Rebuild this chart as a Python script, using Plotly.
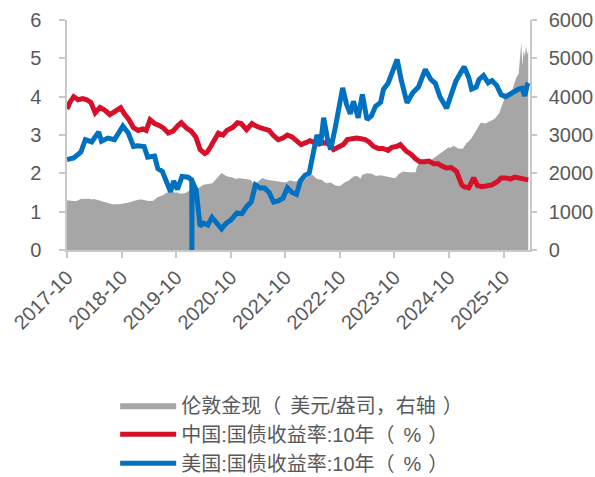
import plotly.graph_objects as go

# ---------------- data ----------------
gold_dates = [
    "2017-10-01", "2017-11-01", "2017-12-01", "2018-01-01", "2018-02-12", "2018-02-18", "2018-02-24",
    "2018-03-15", "2018-04-01", "2018-05-01", "2018-06-01", "2018-07-01", "2018-08-01", "2018-09-01",
    "2018-09-28", "2018-10-04", "2018-10-09", "2018-11-01", "2018-12-01", "2019-01-01", "2019-02-01",
    "2019-02-07", "2019-02-12", "2019-03-01", "2019-04-01", "2019-05-01", "2019-06-01", "2019-07-01",
    "2019-08-01", "2019-09-01", "2019-09-28", "2019-10-04", "2019-10-09", "2019-11-01", "2019-12-01",
    "2020-01-01", "2020-01-22", "2020-01-28", "2020-02-03", "2020-03-01", "2020-04-01", "2020-05-01",
    "2020-06-01", "2020-07-01", "2020-08-01", "2020-09-01", "2020-09-28", "2020-10-04", "2020-10-09",
    "2020-11-01", "2020-12-01", "2021-01-01", "2021-02-08", "2021-02-14", "2021-02-19", "2021-03-01",
    "2021-04-01", "2021-05-01", "2021-06-01", "2021-07-01", "2021-08-01", "2021-09-01", "2021-09-28",
    "2021-10-04", "2021-10-09", "2021-11-01", "2021-12-01", "2022-01-01", "2022-01-28", "2022-02-03",
    "2022-02-08", "2022-03-01", "2022-04-01", "2022-05-01", "2022-06-01", "2022-07-01", "2022-08-01",
    "2022-09-01", "2022-09-28", "2022-10-04", "2022-10-09", "2022-11-01", "2022-12-01", "2023-01-01",
    "2023-01-19", "2023-01-24", "2023-01-30", "2023-02-15", "2023-03-01", "2023-04-01", "2023-05-01",
    "2023-06-01", "2023-07-01", "2023-08-01", "2023-09-01", "2023-09-27", "2023-10-03", "2023-10-09",
    "2023-11-01", "2023-12-01", "2024-01-01", "2024-02-07", "2024-02-13", "2024-02-19", "2024-03-01",
    "2024-04-01", "2024-05-01", "2024-06-01", "2024-07-01", "2024-08-01", "2024-09-01", "2024-09-28",
    "2024-10-03", "2024-10-08", "2024-11-01", "2024-12-01", "2025-01-01", "2025-01-26", "2025-01-31",
    "2025-02-05", "2025-03-01", "2025-04-01", "2025-05-01", "2025-06-01", "2025-07-01", "2025-08-01",
    "2025-09-01", "2025-09-29", "2025-10-04", "2025-10-09", "2025-11-01", "2025-12-01", "2025-12-25",
    "2026-01-10", "2026-01-20", "2026-01-28", "2026-02-03", "2026-02-12", "2026-02-20", "2026-02-28",
    "2026-03-08", "2026-03-15",
]
gold_values = [
    1300, 1290, 1270, 1330, 1335, None, 1335,
    1320, 1330, 1300, 1270, 1230, 1195, 1195,
    1200, None, 1205, 1220, 1250, 1290, 1315,
    None, 1315, 1300, 1280, 1285, 1380, 1420,
    1500, 1510, 1500, None, 1500, 1470, 1480,
    1560, 1570, None, 1590, 1620, 1700, 1720,
    1740, 1880, 2010, 1930, 1900, None, 1900,
    1860, 1870, 1860, 1830, None, 1800, 1730,
    1780, 1880, 1830, 1810, 1790, 1770, 1760,
    None, 1770, 1820, 1790, 1810, 1820, None,
    1830, 1910, 1960, 1850, 1830, 1740, 1760,
    1680, 1670, None, 1680, 1760, 1810, 1920,
    1930, None, 1920, 1860, 1960, 2000, 1990,
    1930, 1950, 1920, 1910, 1880, None, 1880,
    1990, 2050, 2030, 2030, None, 2020, 2180,
    2360, 2380, 2340, 2420, 2500, 2600, 2680,
    None, 2660, 2720, 2650, 2640, 2790, None,
    2810, 2920, 3120, 3320, 3300, 3360, 3420,
    3560, 3860, None, 3970, 4060, 4200, 4500,
    4600, 5060, 5420, 4800, 5200, 5050, 5320,
    5100, 5200,
]

cn_dates = [
    "2017-10-01", "2017-10-20", "2017-11-15", "2017-12-15", "2018-01-15", "2018-02-10", "2018-03-10",
    "2018-03-28", "2018-04-08", "2018-05-10", "2018-06-10", "2018-07-15", "2018-08-15", "2018-09-25",
    "2018-10-20", "2018-11-20", "2018-12-20", "2019-01-20", "2019-02-20", "2019-03-15", "2019-04-10",
    "2019-05-10", "2019-06-10", "2019-07-10", "2019-08-10", "2019-09-10", "2019-10-15", "2019-11-05",
    "2019-12-10", "2020-01-10", "2020-02-10", "2020-03-10", "2020-04-10", "2020-04-25", "2020-05-20",
    "2020-06-15", "2020-07-10", "2020-08-10", "2020-09-05", "2020-10-15", "2020-11-15", "2020-12-10",
    "2021-01-15", "2021-02-20", "2021-03-10", "2021-04-15", "2021-05-15", "2021-06-15", "2021-07-15",
    "2021-08-15", "2021-09-15", "2021-10-15", "2021-11-15", "2021-12-15", "2022-01-15", "2022-02-15",
    "2022-03-15", "2022-04-15", "2022-05-15", "2022-06-15", "2022-07-15", "2022-08-20", "2022-09-15",
    "2022-10-25", "2022-11-20", "2022-12-20", "2023-01-20", "2023-02-20", "2023-03-20", "2023-04-15",
    "2023-05-15", "2023-06-15", "2023-07-15", "2023-08-20", "2023-09-15", "2023-10-15", "2023-11-10",
    "2023-12-20", "2024-01-20", "2024-02-20", "2024-03-20", "2024-04-20", "2024-05-20", "2024-06-20",
    "2024-07-20", "2024-08-20", "2024-09-15", "2024-10-15", "2024-11-20", "2024-12-10", "2024-12-25",
    "2025-01-10", "2025-02-10", "2025-03-15", "2025-04-10", "2025-05-10", "2025-06-15", "2025-07-15",
    "2025-08-20", "2025-09-15", "2025-10-15", "2025-11-15", "2025-12-15", "2026-01-15", "2026-02-10",
    "2026-03-15",
]
cn_values = [
    3.68, 3.85, 4.00, 3.92, 3.95, 3.92, 3.85,
    3.72, 3.58, 3.72, 3.65, 3.53, 3.60, 3.71,
    3.55, 3.40, 3.19, 3.12, 3.16, 3.12, 3.40,
    3.30, 3.25, 3.18, 3.05, 3.10, 3.25, 3.32,
    3.18, 3.10, 2.95, 2.62, 2.52, 2.55, 2.70,
    2.85, 3.05, 3.00, 3.12, 3.20, 3.32, 3.30,
    3.14, 3.30, 3.25, 3.19, 3.15, 3.12, 2.98,
    2.88, 2.92, 3.00, 2.95, 2.85, 2.75, 2.80,
    2.85, 2.80, 2.76, 2.80, 2.78, 2.62, 2.68,
    2.75, 2.88, 2.90, 2.92, 2.90, 2.88, 2.82,
    2.70, 2.65, 2.65, 2.60, 2.68, 2.70, 2.75,
    2.58, 2.50, 2.38, 2.30, 2.30, 2.32, 2.25,
    2.25, 2.18, 2.14, 2.15, 2.05, 1.85, 1.70,
    1.65, 1.62, 1.88, 1.68, 1.65, 1.68, 1.70,
    1.78, 1.88, 1.88, 1.85, 1.90, 1.88, 1.86,
    1.83,
]

us_dates = [
    "2017-10-01", "2017-11-15", "2018-01-01", "2018-02-01", "2018-03-15", "2018-05-01", "2018-05-20",
    "2018-07-01", "2018-08-15", "2018-10-10", "2018-11-15", "2018-12-20", "2019-01-15", "2019-03-01",
    "2019-03-25", "2019-05-10", "2019-06-01", "2019-07-01", "2019-08-25", "2019-09-15", "2019-10-10",
    "2019-11-10", "2019-12-20", "2020-01-14", "2020-01-15", "2020-01-16", "2020-02-12", "2020-03-10",
    "2020-04-01", "2020-05-01", "2020-05-28", "2020-07-01", "2020-08-01", "2020-09-01", "2020-10-01",
    "2020-11-10", "2020-12-15", "2021-01-15", "2021-02-15", "2021-03-15", "2021-04-15", "2021-05-15",
    "2021-06-15", "2021-07-15", "2021-08-15", "2021-09-15", "2021-10-15", "2021-11-15", "2021-12-15",
    "2022-01-10", "2022-02-10", "2022-03-10", "2022-04-01", "2022-05-01", "2022-05-25", "2022-06-15",
    "2022-07-10", "2022-08-01", "2022-09-01", "2022-09-25", "2022-10-20", "2022-11-15", "2022-12-10",
    "2022-12-31", "2023-02-01", "2023-03-01", "2023-04-01", "2023-05-01", "2023-05-28", "2023-07-01",
    "2023-07-20", "2023-08-20", "2023-10-20", "2023-11-15", "2023-12-25", "2024-02-01", "2024-03-10",
    "2024-04-25", "2024-06-01", "2024-07-01", "2024-08-01", "2024-09-15", "2024-10-15", "2024-11-15",
    "2025-01-10", "2025-02-10", "2025-03-01", "2025-04-01", "2025-04-20", "2025-05-20", "2025-06-20",
    "2025-07-15", "2025-08-15", "2025-09-15", "2025-10-15", "2025-11-15", "2025-12-15", "2026-01-10",
    "2026-02-01", "2026-02-20", "2026-03-08", "2026-03-15",
]
us_values = [
    2.36, 2.40, 2.55, 2.88, 2.82, 3.08, 2.84,
    2.92, 2.88, 3.23, 3.05, 2.70, 2.72, 2.70,
    2.42, 2.45, 2.12, 2.05, 1.52, 1.80, 1.58,
    1.92, 1.90, 1.83, 0.00, 1.80, 1.57, 0.62,
    0.70, 0.65, 0.85, 0.68, 0.55, 0.70, 0.78,
    0.96, 0.95, 1.13, 1.25, 1.70, 1.62, 1.62,
    1.50, 1.25, 1.28, 1.35, 1.62, 1.50, 1.45,
    1.80, 1.95, 2.00, 2.45, 3.00, 2.75, 3.45,
    2.90, 2.62, 3.20, 3.80, 4.23, 3.80, 3.55,
    3.88, 3.45, 4.06, 3.40, 3.50, 3.75, 3.85,
    4.19, 4.35, 4.97, 4.45, 3.84, 4.10, 4.25,
    4.71, 4.45, 4.35, 4.00, 3.70, 4.10, 4.40,
    4.78, 4.50, 4.20, 4.25, 4.45, 4.55, 4.36,
    4.42, 4.30, 4.05, 4.00, 4.08, 4.15, 4.20,
    4.22, 4.02, 4.30, 4.36,
]

x_tick_vals = ["2017-10-01", "2018-10-01", "2019-10-01", "2020-10-01", "2021-10-01",
               "2022-10-01", "2023-10-01", "2024-10-01", "2025-10-01"]
x_tick_text = ["2017-10", "2018-10", "2019-10", "2020-10", "2021-10",
               "2022-10", "2023-10", "2024-10", "2025-10"]
left_ticks = [0, 1, 2, 3, 4, 5, 6]
right_ticks = [0, 1000, 2000, 3000, 4000, 5000, 6000]

names = ["伦敦金现（美元/盎司，右轴）", "中国:国债收益率:10年（%）", "美国:国债收益率:10年（%）"]

# ---------------- figure ----------------
FONT = "Liberation Sans, Arial, Noto Sans CJK SC, sans-serif"
TXT = "#595959"
AX = "#C8C8C8"
SPACED = "<span style=\"letter-spacing:{}px\">{}</span>"


def legend_label(s):
    # give the full-width brackets the roomy spacing they have in the original
    out = ""
    for i, ch in enumerate(s):
        nxt = s[i + 1] if i + 1 < len(s) else ""
        if ch == "（":
            out += SPACED.format(9, ch)
        elif nxt == "）":
            out += SPACED.format(7, ch)
        else:
            out += ch
    return out


fig = go.Figure()
fig.add_trace(go.Scatter(
    x=gold_dates, y=gold_values, name=legend_label(names[0]), mode="lines",
    line=dict(width=0, color="#A6A6A6"), fill="tozeroy", fillcolor="#A6A6A6",
    connectgaps=False, yaxis="y", xaxis="x",
))
fig.add_trace(go.Scatter(
    x=cn_dates, y=cn_values, name=legend_label(names[1]), mode="lines",
    line=dict(width=5, color="#D7102A"), yaxis="y2", xaxis="x",
))
fig.add_trace(go.Scatter(
    x=us_dates, y=us_values, name=legend_label(names[2]), mode="lines",
    line=dict(width=5, color="#0070C0"), yaxis="y2", xaxis="x",
))

fig.update_layout(
    width=595, height=477,
    margin=dict(l=67, r=65, t=20, b=227, autoexpand=False),
    paper_bgcolor="white", plot_bgcolor="white",
    font=dict(family=FONT, size=20, color=TXT),
    showlegend=True,
    legend=dict(
        x=0.104, xanchor="left", y=-0.59, yanchor="top",
        font=dict(size=20, color=TXT), bgcolor="rgba(0,0,0,0)",
        itemwidth=56, tracegroupgap=0,
    ),
    xaxis=dict(
        type="date", range=["2017-10-01", "2026-03-27"], automargin=False,
        tickmode="array", tickvals=x_tick_vals, ticktext=x_tick_text,
        tickangle=-45, ticks="outside", ticklen=6, tickcolor=AX, tickwidth=1.5,
        showline=True, linecolor=AX, linewidth=1.5, showgrid=False, zeroline=False,
        tickfont=dict(size=20, color=TXT),
    ),
    yaxis=dict(
        side="right", range=[0, 6000], tickmode="array", tickvals=right_ticks, automargin=False,
        ticks="outside", ticklen=5, tickcolor=AX, tickwidth=1.5,
        showline=True, linecolor=AX, linewidth=1.5, showgrid=False, zeroline=False,
        tickfont=dict(size=20, color=TXT), ticklabelstandoff=8,
    ),
    yaxis2=dict(
        side="left", overlaying="y", range=[0, 6], tickmode="array", tickvals=left_ticks,
        automargin=False,
        ticks="outside", ticklen=6, tickcolor=AX, tickwidth=1.5,
        showline=True, linecolor=AX, linewidth=1.5, showgrid=False, zeroline=False,
        tickfont=dict(size=20, color=TXT), ticklabelstandoff=14,
    ),
)

PAGE_JS = "document.body.style.margin='0';document.body.style.padding='0';"

fig.write_html("out.html", config={"displayModeBar": False}, post_script=PAGE_JS)
